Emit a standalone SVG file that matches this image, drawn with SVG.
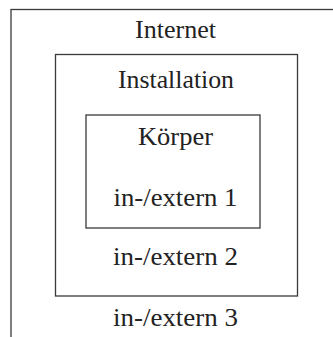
<svg xmlns="http://www.w3.org/2000/svg" width="333" height="337" viewBox="0 0 333 337">
<style>
.box{fill:none;stroke:#3a3a3a;stroke-width:1.3}
.t{font-family:"Liberation Serif","Times New Roman",serif;font-size:25px;fill:#222;text-anchor:middle}
</style>
<rect width="333" height="337" fill="#fff"/>
<g id="internet">
<rect class="box" x="11" y="9.5" width="340" height="340"/>
<text class="t" x="175.5" y="38" textLength="81" lengthAdjust="spacingAndGlyphs">Internet</text>
<text class="t" x="175.5" y="326" textLength="125" lengthAdjust="spacingAndGlyphs">in-/extern 3</text>
</g>
<g id="installation">
<rect class="box" x="55.5" y="54.5" width="242" height="241.5"/>
<text class="t" x="176" y="88" textLength="116" lengthAdjust="spacingAndGlyphs">Installation</text>
<text class="t" x="175.5" y="265" textLength="125" lengthAdjust="spacingAndGlyphs">in-/extern 2</text>
</g>
<g id="koerper">
<rect class="box" x="86" y="115" width="174" height="113"/>
<text class="t" x="175.5" y="145" textLength="75" lengthAdjust="spacingAndGlyphs">Körper</text>
<text class="t" x="175.5" y="206" textLength="124" lengthAdjust="spacingAndGlyphs">in-/extern 1</text>
</g>
<g id="connectors"/>
</svg>
